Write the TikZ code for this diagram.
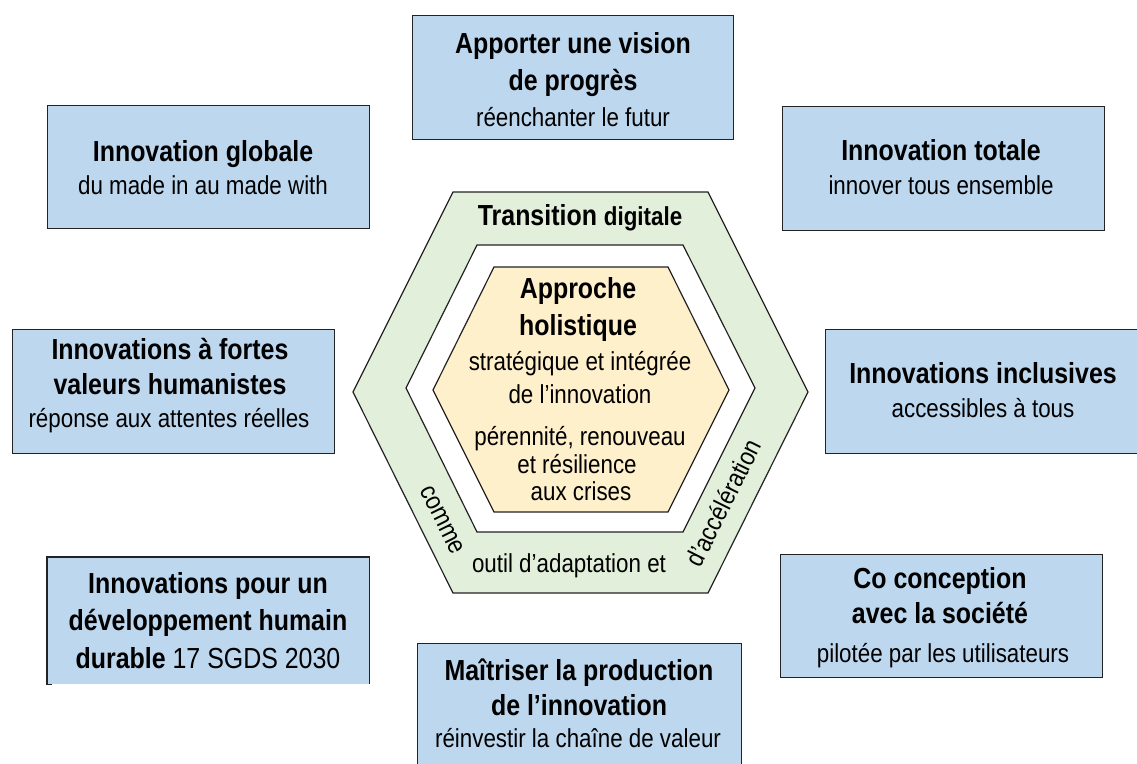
\documentclass[tikz,border=0pt]{standalone}
\usepackage{fontspec}
\setmainfont[FakeStretch=0.86]{Liberation Sans}
\definecolor{boxblue}{RGB}{189,215,238}
\definecolor{ringgreen}{RGB}{226,239,218}
\definecolor{coreyellow}{RGB}{255,240,204}
\definecolor{edge}{RGB}{35,35,35}
\newcommand\bigb{\fontsize{29}{35}\selectfont\bfseries}
\newcommand\midb{\fontsize{26}{35}\selectfont\bfseries}
\newcommand\reg{\fontsize{26}{35}\selectfont}
\begin{document}
\begin{tikzpicture}[x=1pt,y=-1pt,
  bluebox/.style={draw=edge,line width=1.4pt,fill=boxblue,inner sep=0pt,anchor=north west},
  hexline/.style={draw=edge,line width=1.2pt},
  txt/.style={anchor=base,inner sep=0pt,text=black},
  ]
\useasboundingbox (0,0) rectangle (1137,763);
\clip (0,0) rectangle (1137,763);

% ---- boxes
\node[bluebox,minimum width=321pt,minimum height=124pt] (top) at (412,15) {};
\node[bluebox,minimum width=322pt,minimum height=123pt] (glob) at (47,105) {};
\node[bluebox,minimum width=322pt,minimum height=124pt] (tot) at (782,106) {};
\node[bluebox,minimum width=322pt,minimum height=124pt] (hum) at (12,329) {};
\node[bluebox,minimum width=330pt,minimum height=124pt] (incl) at (825,329) {};
\node[bluebox,draw=none,minimum width=321pt,minimum height=126pt] (dur) at (47,557) {};
\draw[edge,line width=1.4pt] ([xshift=5pt]dur.south west) -- (dur.south west) -- (dur.north west) -- (dur.north east) -- (dur.south east);
\node[bluebox,minimum width=322pt,minimum height=123pt] (coc) at (780,554) {};
\node[bluebox,minimum width=324pt,minimum height=140pt] (mai) at (417,643) {};

% ---- hexagons
\coordinate (o1) at (453,192); \coordinate (o2) at (708,192); \coordinate (o3) at (808,392);
\coordinate (o4) at (708,593); \coordinate (o5) at (453,593); \coordinate (o6) at (353,392);
\coordinate (w1) at (477,245); \coordinate (w2) at (683,245); \coordinate (w3) at (755,388);
\coordinate (w4) at (683,532); \coordinate (w5) at (477,532); \coordinate (w6) at (406,388);
\coordinate (y1) at (494,267); \coordinate (y2) at (668,267); \coordinate (y3) at (729,390);
\coordinate (y4) at (668,512); \coordinate (y5) at (494,512); \coordinate (y6) at (433,390);
\draw[hexline,fill=ringgreen] (o1) -- (o2) -- (o3) -- (o4) -- (o5) -- (o6) -- cycle;
\draw[hexline,fill=white] (w1) -- (w2) -- (w3) -- (w4) -- (w5) -- (w6) -- cycle;
\draw[hexline,fill=coreyellow] (y1) -- (y2) -- (y3) -- (y4) -- (y5) -- (y6) -- cycle;

% ---- box texts
\node[txt,font=\bigb] (top1) at (573,53) {Apporter une vision};
\node[txt,font=\bigb] (top2) at (573,90) {de progrès};
\node[txt,font=\reg] (top3) at (573,126) {réenchanter le futur};

\node[txt,font=\bigb] (glob1) at (203,161) {Innovation globale};
\node[txt,font=\reg] (glob2) at (203,194) {du made in au made with};

\node[txt,font=\bigb] (tot1) at (941,160) {Innovation totale};
\node[txt,font=\reg] (tot2) at (941,194) {innover tous ensemble};

\node[txt,font=\bigb] (hum1) at (170,359) {Innovations à fortes};
\node[txt,font=\bigb] (hum2) at (170,394) {valeurs humanistes};
\node[txt,font=\reg] (hum3) at (169,427) {réponse aux attentes réelles};

\node[txt,font=\bigb] (incl1) at (983,383) {Innovations inclusives};
\node[txt,font=\reg] (incl2) at (983,417) {accessibles à tous};

\node[txt,font=\bigb] (dur1) at (208,593) {Innovations pour un};
\node[txt,font=\bigb] (dur2) at (208,630) {développement humain};
\node[txt,font=\bigb] (dur3) at (208,668) {durable {\mdseries 17 SGDS 2030}};

\node[txt,font=\bigb] (coc1) at (940,588) {Co conception};
\node[txt,font=\bigb] (coc2) at (940,623) {avec la société};
\node[txt,font=\reg] (coc3) at (943,662) {pilotée par les utilisateurs};

\node[txt,font=\bigb] (mai1) at (579,680) {Maîtriser la production};
\node[txt,font=\bigb] (mai2) at (579,715) {de l’innovation};
\node[txt,font=\reg] (mai3) at (578,747) {réinvestir la chaîne de valeur};

% ---- hexagon texts
\node[txt,font=\bigb] (tr) at (580,225) {Transition {\midb digitale}};
\node[txt,font=\bigb] (ap1) at (578,298) {Approche};
\node[txt,font=\bigb] (ap2) at (578,335) {holistique};
\node[txt,font=\reg] (ap3) at (580,370) {stratégique et intégrée};
\node[txt,font=\reg] (ap4) at (580,403) {de l’innovation};
\node[txt,font=\reg] (ap5) at (580,445) {pérennité, renouveau};
\node[txt,font=\reg] (ap6) at (577,473) {et résilience};
\node[txt,font=\reg] (ap7) at (581,500) {aux crises};
\node[txt,font=\reg] (outil) at (569,572) {outil d’adaptation et};
\node[font=\reg,inner sep=0pt,rotate=-63.5] (comme) at (442,520) {comme};
\node[font=\reg,inner sep=0pt,rotate=63.5] (accel) at (723,503) {d’accélération};
\end{tikzpicture}
\end{document}
